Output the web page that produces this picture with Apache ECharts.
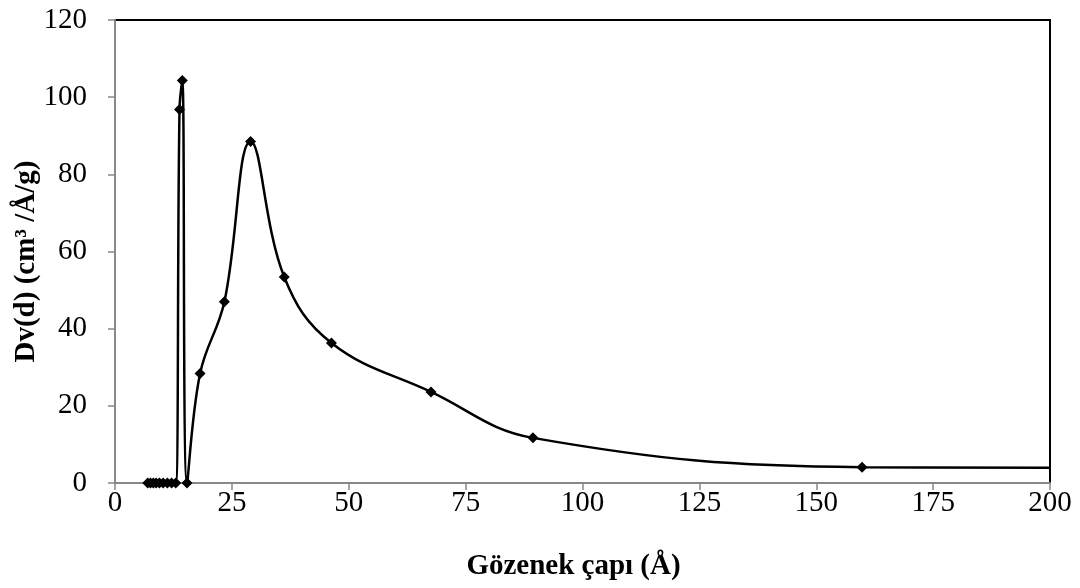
<!DOCTYPE html>
<html>
<head>
<meta charset="utf-8">
<script src="https://cdn.jsdelivr.net/npm/echarts@6/dist/echarts.min.js"></script>
<style>
  html, body { margin: 0; padding: 0; background: #fff; }
  #main { width: 1080px; height: 588px; }
</style>
</head>
<body>
<div id="main"></div>
<script>
// pore diameter (Å) and Dv(d) values
var poreSize = [7.0, 7.6, 8.2, 8.8, 9.5, 10.3, 11.2, 12.1, 13.0, 13.8, 14.4, 15.4,
  18.2, 23.4, 29.0, 36.2, 46.3, 67.6, 89.4, 159.8, 200];
var dvd = [0, 0, 0, 0, 0, 0, 0, 0, 0, 96.8, 104.3, 0,
  28.4, 47.0, 88.5, 53.4, 36.3, 23.6, 11.7, 4.1, 3.95];
var xTicks = [0, 25, 50, 75, 100, 125, 150, 175, 200];
var yTicks = [0, 20, 40, 60, 80, 100, 120];

var points = [];
for (var i = 0; i < poreSize.length; i++) {
  var p = { value: [poreSize[i], dvd[i]] };
  // last point only continues the line to the edge, no marker
  if (i == poreSize.length - 1) p.symbol = 'none';
  points.push(p);
}

var myChart = echarts.init(document.getElementById('main'));

var font = '"Liberation Serif", "Times New Roman", serif';

var option = {
  animation: false,
  backgroundColor: '#fff',
  grid: {
    left: 115,
    right: 30,
    top: 20,
    bottom: 105,
    containLabel: false,
    outerBoundsMode: 'none',
    show: true,
    borderColor: '#000',
    borderWidth: 2
  },
  xAxis: {
    type: 'value',
    min: xTicks[0],
    max: xTicks[xTicks.length - 1],
    interval: 25,
    name: 'Gözenek çapı (Å)',
    nameLocation: 'middle',
    nameGap: 69,
    nameMoveOverlap: false,
    nameTextStyle: {
      fontFamily: font, fontSize: 29, fontWeight: 'bold', color: '#000',
      padding: [0, 18, 0, 0]
    },
    axisLine: { show: true, lineStyle: { color: '#888', width: 2 } },
    axisTick: { show: true, length: 7, lineStyle: { color: '#888', width: 1.5 } },
    axisLabel: { fontFamily: font, fontSize: 29, color: '#000', margin: 6 },
    splitLine: { show: false }
  },
  yAxis: {
    type: 'value',
    min: yTicks[0],
    max: yTicks[yTicks.length - 1],
    interval: 20,
    name: 'Dv(d) (cm³ /Å/g)',
    nameLocation: 'middle',
    nameGap: 74,
    nameMoveOverlap: false,
    nameTextStyle: {
      fontFamily: font, fontSize: 29, fontWeight: 'bold', color: '#000',
      padding: [0, 20, 0, 0]
    },
    axisLine: { show: true, lineStyle: { color: '#888', width: 2 } },
    axisTick: { show: true, length: 7, lineStyle: { color: '#888', width: 1.5 } },
    axisLabel: { fontFamily: font, fontSize: 29, color: '#000', margin: 28 },
    splitLine: { show: false }
  },
  series: [{
    type: 'line',
    data: points,
    smooth: 0.4,
    clip: true,
    symbol: 'diamond',
    symbolSize: 11,
    itemStyle: { color: '#000' },
    lineStyle: { color: '#000', width: 2.5 }
  }]
};

myChart.setOption(option);
</script>
</body>
</html>
